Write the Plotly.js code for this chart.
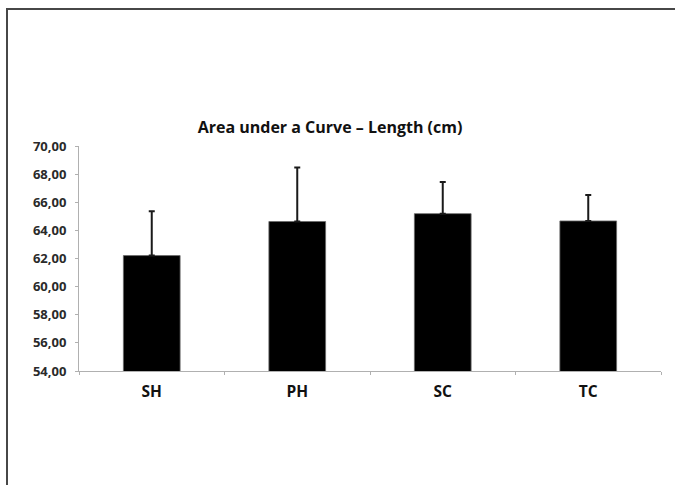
<!DOCTYPE html>
<html>
<head>
<meta charset="utf-8">
<script src="https://cdn.plot.ly/plotly-3.0.1.min.js"></script>
<style>
  html, body { margin: 0; padding: 0; background: #fff; }
  #wrap { position: relative; width: 675px; height: 485px; }
  #chart { position: absolute; left: 0; top: 0; width: 675px; height: 485px; }
  #frame { position: absolute; left: 6px; top: 8px; width: 669px; height: 477px;
           border-top: 2px solid #474747; border-left: 2px solid #474747;
           box-sizing: border-box; pointer-events: none; }
</style>
</head>
<body>
<div id="wrap">
  <div id="chart"></div>
  <div id="frame"></div>
</div>
<script>
const categories = ["SH", "PH", "SC", "TC"];
const means = [62.21, 64.63, 65.19, 64.67];
const errorsUp = [3.15, 3.84, 2.25, 1.85];
const yTicks = [54, 56, 58, 60, 62, 64, 66, 68, 70];

const FONT = '"Open Sans", "Noto Sans", sans-serif';

const trace = {
  type: 'bar',
  x: categories,
  y: means,
  width: 0.39,
  marker: { color: '#000000', line: { color: '#6a6a6a', width: 0.8 } },
  error_y: { type: 'data', symmetric: false, array: errorsUp, arrayminus: errorsUp.map(() => 0),
             color: '#1a1a1a', thickness: 2, width: 3 },
  hoverinfo: 'none'
};

const layout = {
  width: 675, height: 485,
  margin: { l: 79, r: 14, t: 146, b: 114 },
  paper_bgcolor: '#ffffff', plot_bgcolor: '#ffffff',
  separators: ',.',
  showlegend: false,
  font: { family: FONT, color: '#1a1a1a' },
  title: {
    text: 'Area under a Curve – Length (cm)',
    font: { family: FONT, size: 16, color: '#111111', weight: 700 },
    xref: 'container', x: 330 / 675, xanchor: 'center',
    yref: 'container', y: 1 - 127 / 485, yanchor: 'middle'
  },
  xaxis: {
    type: 'category',
    showline: true, linecolor: '#b0b0b0', linewidth: 1,
    ticks: 'outside', tickson: 'boundaries', ticklen: 3, tickcolor: '#b0b0b0',
    ticklabelstandoff: 6,
    tickfont: { family: FONT, size: 15.5, color: '#111111', weight: 700 },
    showgrid: false, zeroline: false, fixedrange: true
  },
  yaxis: {
    range: [54, 70],
    tickvals: yTicks,
    tickformat: '.2f',
    showline: true, linecolor: '#b0b0b0', linewidth: 1,
    ticks: 'outside', ticklen: 3, tickcolor: '#b0b0b0',
    ticklabelstandoff: 6,
    tickfont: { family: FONT, size: 13, color: '#2a2a2a', weight: 700 },
    showgrid: false, zeroline: false, fixedrange: true
  },
  bargap: 0.61
};

Plotly.newPlot('chart', [trace], layout, { displayModeBar: false, staticPlot: true });
</script>
</body>
</html>
